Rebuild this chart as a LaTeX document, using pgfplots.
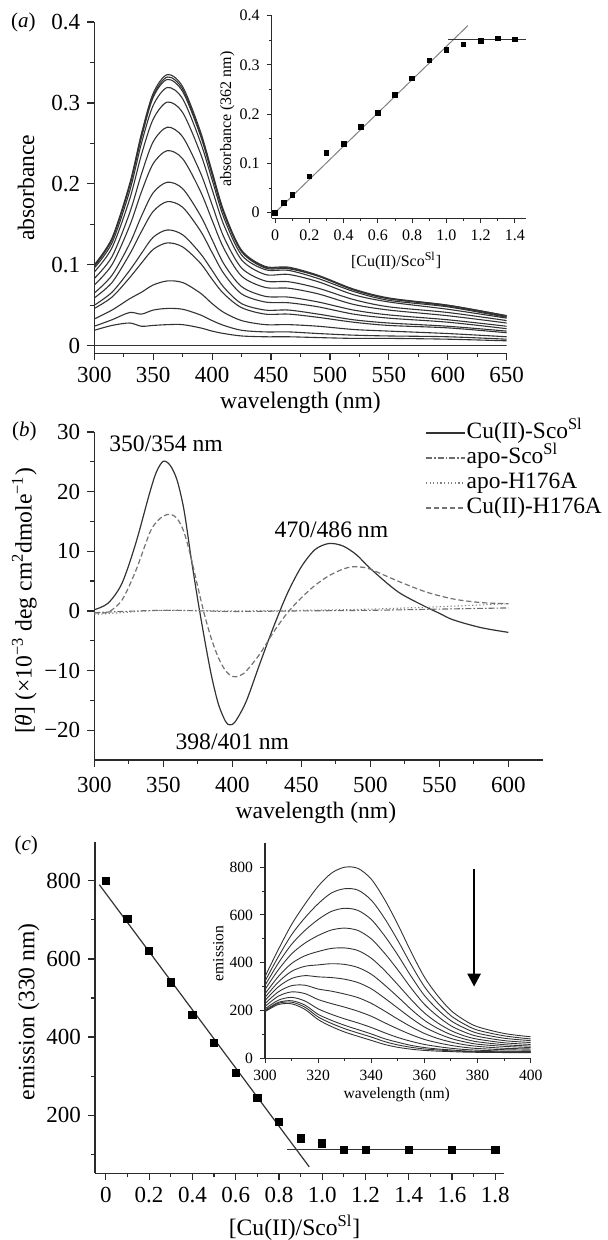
\documentclass[border=0pt]{standalone}
\usepackage{fontspec}
\setmainfont{Liberation Serif}
\usepackage{pgfplots}
\pgfplotsset{compat=1.18}
\usepackage{pgfplotstable}
\usetikzlibrary{arrows.meta}

\definecolor{crv}{HTML}{333333}
\definecolor{axc}{HTML}{2A2A2A}

\pgfplotstableread{
x    B     C1    C2    C3    C4    C5    C6    C7    C8    C9    C10   C11   C12   T
300  0.019 0.024 0.033 0.046 0.050 0.059 0.065 0.075 0.083 0.091 0.096 0.098 0.099 0.100
315  0.025 0.032 0.044 0.060 0.066 0.078 0.087 0.100 0.110 0.121 0.127 0.131 0.132 0.133
330  0.028 0.041 0.058 0.084 0.093 0.113 0.126 0.148 0.164 0.181 0.191 0.197 0.198 0.200
340  0.024 0.039 0.066 0.102 0.114 0.141 0.160 0.190 0.212 0.236 0.250 0.257 0.260 0.262
350  0.025 0.044 0.075 0.119 0.134 0.166 0.189 0.225 0.252 0.280 0.297 0.307 0.309 0.312
362  0.026 0.046 0.080 0.127 0.143 0.178 0.202 0.241 0.270 0.301 0.319 0.329 0.332 0.335
375  0.026 0.045 0.078 0.122 0.137 0.171 0.194 0.231 0.258 0.288 0.305 0.314 0.317 0.320
390  0.022 0.038 0.065 0.102 0.114 0.142 0.161 0.191 0.214 0.238 0.252 0.260 0.262 0.265
400  0.018 0.031 0.052 0.082 0.093 0.115 0.131 0.155 0.174 0.193 0.205 0.211 0.213 0.215
410  0.015 0.025 0.041 0.064 0.072 0.089 0.101 0.120 0.134 0.149 0.158 0.163 0.164 0.166
425  0.012 0.019 0.031 0.047 0.052 0.064 0.073 0.086 0.096 0.106 0.112 0.116 0.117 0.118
445  0.011 0.017 0.026 0.039 0.044 0.054 0.061 0.072 0.080 0.088 0.094 0.096 0.097 0.098
465  0.011 0.017 0.026 0.039 0.044 0.053 0.060 0.071 0.079 0.088 0.093 0.095 0.096 0.097
490  0.010 0.015 0.024 0.035 0.039 0.048 0.054 0.064 0.071 0.079 0.083 0.086 0.086 0.087
520  0.009 0.013 0.020 0.029 0.032 0.039 0.044 0.051 0.057 0.063 0.067 0.069 0.069 0.070
550  0.009 0.012 0.018 0.025 0.028 0.034 0.038 0.044 0.048 0.054 0.056 0.058 0.058 0.059
600  0.008 0.011 0.015 0.022 0.024 0.029 0.032 0.037 0.041 0.045 0.048 0.049 0.050 0.050
650  0.006 0.008 0.011 0.016 0.018 0.021 0.024 0.028 0.031 0.034 0.035 0.036 0.037 0.037
}\tabA

\pgfplotstableread{
x    L   E1  E2  E3  E4  E5  E6  E7  E8  E9  E10 E11 T
300  195 198 201 207 217 229 242 255 270 288 305 323 342
305  225 230 234 243 260 278 299 319 342 370 398 425 455
310  228 235 241 255 278 304 334 364 397 437 477 517 560
315  205 214 223 240 271 306 346 385 429 482 535 588 645
320  162 173 184 207 246 290 341 391 447 514 581 647 720
325  133 146 159 184 229 281 338 396 460 537 615 692 775
330  110 124 138 165 214 269 331 393 462 545 628 710 800
335  92  106 120 148 197 254 317 380 451 535 619 704 795
340  75  89  102 129 176 230 291 352 419 500 581 662 750
345  58  70  82  107 149 198 252 307 368 440 513 586 665
350  46  56  67  87  123 164 210 257 308 370 432 493 560
355  38  46  54  71  99  132 168 205 246 294 343 392 445
360  33  39  45  58  79  104 131 159 190 226 263 300 340
365  30  35  39  49  65  83  104 125 148 176 204 232 262
370  28  31  35  42  54  68  83  99  116 136 157 178 200
375  26  29  31  37  46  57  69  81  94  110 127 143 160
380  25  27  29  34  41  50  59  69  80  92  105 118 132
390  24  26  27  30  36  42  50  57  65  74  84  94  104
400  24  25  27  29  34  39  45  51  58  66  74  81  90
}\tabC

\pgfplotsset{
  origin/.style={
    scale only axis,
    axis lines*=left,
    axis line style={axc, line width=0.7pt},
    tick align=outside,
    major tick length=3.5pt,
    minor tick length=2pt,
    every tick/.style={axc, line width=0.6pt},
    /pgf/number format/assume math mode=true,
    tick label style={font=\fontsize{11.5}{13}\selectfont, text=black},
    label style={font=\fontsize{11.8}{14}\selectfont},
  },
  inset/.style={
    axis line style={axc, line width=0.55pt},
    every tick/.style={axc, line width=0.5pt},
    major tick length=2.5pt,
    minor tick length=1.5pt,
  },
}

\begin{document}
\begin{tikzpicture}
\useasboundingbox (0,0) rectangle (304pt,620pt);

% ---------------- panel (a) main
\begin{axis}[origin, at={(47.15pt,443.35pt)}, anchor=south west,
  width=206.2pt, height=165.65pt,
  xmin=300, xmax=650, ymin=-0.0094, ymax=0.4,
  xtick={300,350,400,450,500,550,600,650},
  minor xtick={325,375,425,475,525,575,625},
  ytick={0,0.1,0.2,0.3,0.4}, yticklabels={0,0.1,0.2,0.3,0.4},
  minor ytick={0.05,0.15,0.25,0.35},
  xlabel={wavelength (nm)}, ylabel={absorbance},
  xlabel style={at={(axis description cs:0.5,-0.15)}, anchor=center},
  ylabel style={at={(axis description cs:-0.1656,0.5)}, anchor=center},
]
\addplot[crv, line width=0.55pt] coordinates {(300,0) (650,0)};
\pgfplotsinvokeforeach{B,C1,C2,C3,C4,C5,C6,C7,C8,C9,C10,C11,C12,T}{
  \addplot[crv, line width=0.55pt, smooth] table[x=x, y=#1] {\tabA};
}
\end{axis}

% ---------------- panel (a) inset
\begin{axis}[origin, inset, at={(135.85pt,510.85pt)}, anchor=south west,
  width=127.15pt, height=101.3pt,
  xmin=-0.02, xmax=1.465, ymin=-0.0114, ymax=0.4,
  xtick={0,0.2,0.4,0.6,0.8,1.0,1.2,1.4},
  xticklabels={0,0.2,0.4,0.6,0.8,1.0,1.2,1.4},
  minor xtick={0.1,0.3,0.5,0.7,0.9,1.1,1.3},
  ytick={0,0.1,0.2,0.3,0.4}, yticklabels={0,0.1,0.2,0.3,0.4},
  minor ytick={0.05,0.15,0.25,0.35},
  tick label style={font=\fontsize{8}{9}\selectfont},
  label style={font=\fontsize{8}{9}\selectfont},
  xlabel={[Cu(II)/Sco\textsuperscript{Sl}]}, ylabel={absorbance (362 nm)},
  xlabel style={at={(axis description cs:0.489,-0.21)}, anchor=center},
  ylabel style={at={(axis description cs:-0.175,0.49)}, anchor=center},
]
\addplot[gray, line width=0.5pt] coordinates {(0,0) (1.126,0.380)};
\addplot[crv, line width=0.5pt] coordinates {(1.009,0.351) (1.465,0.351)};
\addplot[only marks, mark=square*, mark size=1.15pt, black] coordinates {
(0,0) (0.05,0.0196) (0.1,0.0365) (0.2,0.0738) (0.3,0.121) (0.4,0.140)
(0.5,0.174) (0.6,0.202) (0.7,0.239) (0.8,0.273) (0.9,0.309) (1.0,0.331)
(1.1,0.342) (1.2,0.349) (1.3,0.354) (1.4,0.352)};
\end{axis}

% ---------------- panel (b)
\begin{axis}[origin, at={(47.15pt,240pt)}, anchor=south west,
  width=224.3pt, height=164pt, clip=false,
  xmin=300, xmax=625, ymin=-25, ymax=30,
  xtick={300,350,400,450,500,550,600},
  minor xtick={325,375,425,475,525,575},
  ytick={-20,-10,0,10,20,30}, yticklabels={−20,−10,0,10,20,30},
  minor ytick={-15,-5,5,15,25},
  xticklabel style={yshift=-1.5pt},
  xlabel={wavelength (nm)},
  ylabel={[\textit{θ}] (×10\textsuperscript{−3} deg cm\textsuperscript{2}dmole\textsuperscript{−1})},
  xlabel style={at={(axis description cs:0.494,-0.162)}, anchor=center},
  ylabel style={at={(axis description cs:-0.156,0.485)}, anchor=center},
  legend style={at={(0.737,1.035)}, anchor=north west, draw=none, fill=none,
    font=\fontsize{11.7}{13}\selectfont, row sep=0.4pt, inner sep=0pt,
    nodes={inner sep=0.6pt, text height=8.1pt, text depth=2.8pt}},
  legend cell align=left,
  legend image code/.code={\draw[#1] (0pt,0pt) -- (19.5pt,0pt);},
]
\addplot[crv, line width=0.6pt, smooth] coordinates {
(300,0.2)(310,1.3)(320,4.6)(330,11.3)(340,19.7)(345,23.3)(350,25.1)(355,24.4)
(360,21.9)(365,16.9)(370,9.1)(375,1.8)(380,-4.9)(385,-11.0)(390,-15.7)(395,-18.5)
(398,-19.1)(402,-18.6)(410,-15.2)(420,-8.8)(430,-2.6)(440,3.0)(450,7.4)(460,10.3)
(470,11.3)(480,10.9)(490,9.4)(500,7.1)(520,3.2)(540,0.7)(550,-0.4)(560,-1.5)
(580,-2.8)(600,-3.6)};
\addlegendentry{Cu(II)-Sco\textsuperscript{Sl}}
\addplot[gray!85!black, line width=0.55pt, smooth, dash pattern=on 3pt off 1pt on 0.8pt off 1pt] coordinates {
(300,-0.3)(320,-0.1)(350,0.1)(380,0)(400,-0.1)(450,0)(500,0.1)(550,0.3)(600,0.5)};
\addlegendentry{apo-Sco\textsuperscript{Sl}}
\addplot[gray, line width=0.55pt, smooth, dash pattern=on 0.6pt off 1.2pt] coordinates {
(300,-0.6)(320,-0.3)(350,0.1)(400,0)(450,0.1)(500,0.3)(550,0.7)(580,1.0)(600,1.2)};
\addlegendentry{apo-H176A}
\addplot[gray!90!black, line width=0.6pt, smooth, dash pattern=on 2.6pt off 1.4pt] coordinates {
(300,-0.3)(310,-0.2)(320,1.8)(330,6.7)(340,13.0)(345,14.9)(350,15.9)(355,16.2)
(360,15.5)(365,13.2)(370,9.0)(375,4.0)(380,-0.8)(385,-4.8)(390,-7.9)(395,-10.0)
(400,-11.0)(405,-10.9)(410,-10.1)(420,-7.2)(430,-3.5)(440,-0.3)(450,2.2)(460,4.3)
(470,5.9)(480,7.0)(487,7.4)(495,7.3)(500,7.0)(510,6.0)(520,5.0)(540,3.2)(560,2.0)
(580,1.4)(600,1.2)};
\addlegendentry{Cu(II)-H176A}
\node[font=\fontsize{11.8}{13}\selectfont] at (axis cs:352,28.1) {350/354 nm};
\node[font=\fontsize{11.8}{13}\selectfont] at (axis cs:471.8,13.6) {470/486 nm};
\node[font=\fontsize{11.8}{13}\selectfont] at (axis cs:400,-21.9) {398/401 nm};
\end{axis}

% ---------------- panel (c) main
\begin{axis}[origin, at={(47.5pt,33.35pt)}, anchor=south west,
  width=204.5pt, height=165.8pt,
  xmin=-0.05, xmax=1.84, ymin=51.5, ymax=900,
  xtick={0,0.2,0.4,0.6,0.8,1.0,1.2,1.4,1.6,1.8},
  xticklabels={0,0.2,0.4,0.6,0.8,1.0,1.2,1.4,1.6,1.8},
  minor xtick={0.1,0.3,0.5,0.7,0.9,1.1,1.3,1.5,1.7},
  ytick={200,400,600,800}, yticklabels={200,400,600,800},
  minor ytick={100,300,500,700},
  xlabel={[Cu(II)/Sco\textsuperscript{Sl}]}, ylabel={emission (330 nm)},
  xlabel style={at={(axis description cs:0.488,-0.165)}, anchor=center},
  ylabel style={at={(axis description cs:-0.162,0.487)}, anchor=center},
]
\addplot[crv, line width=0.6pt] coordinates {(-0.03,790) (0.94,68)};
\addplot[crv, line width=0.6pt] coordinates {(0.835,113) (1.815,113)};
\addplot[only marks, mark=square*, mark size=1.8pt, black] coordinates {
(0,800) (0.1,703) (0.2,621) (0.3,540) (0.4,457) (0.5,386) (0.6,308) (0.7,244)
(0.8,184) (0.9,141) (1.0,128) (1.1,111) (1.2,111) (1.4,111) (1.6,111) (1.8,111)};
\end{axis}

% ---------------- panel (c) inset
\begin{axis}[origin, inset, at={(132.5pt,90.85pt)}, anchor=south west,
  width=132.85pt, height=107.5pt,
  xmin=300, xmax=400, ymin=0, ymax=900,
  xtick={300,320,340,360,380,400},
  minor xtick={310,330,350,370,390},
  ytick={0,200,400,600,800}, yticklabels={0,200,400,600,800},
  minor ytick={100,300,500,700},
  tick label style={font=\fontsize{7.8}{9}\selectfont},
  label style={font=\fontsize{7.8}{9}\selectfont},
  xlabel={wavelength (nm)}, ylabel={emission},
  xlabel style={at={(axis description cs:0.496,-0.17)}, anchor=center},
  ylabel style={at={(axis description cs:-0.176,0.488)}, anchor=center},
]
\pgfplotsinvokeforeach{L,E1,E2,E3,E4,E5,E6,E7,E8,E9,E10,E11,T}{
  \addplot[crv, line width=0.45pt, smooth] table[x=x, y=#1] {\tabC};
}
\draw[-{Triangle[length=6.5pt,width=6.5pt]}, line width=1.3pt, black]
  (axis cs:378.7,792) -- (axis cs:378.7,300);
\end{axis}

\node[font=\fontsize{10.5}{13}\selectfont] at (11.65pt,608.65pt) {(\textit{a})};
\node[font=\fontsize{10.5}{13}\selectfont] at (12.15pt,404.15pt) {(\textit{b})};
\node[font=\fontsize{10.5}{13}\selectfont] at (13.1pt,197.5pt) {(\textit{c})};
\end{tikzpicture}
\end{document}
